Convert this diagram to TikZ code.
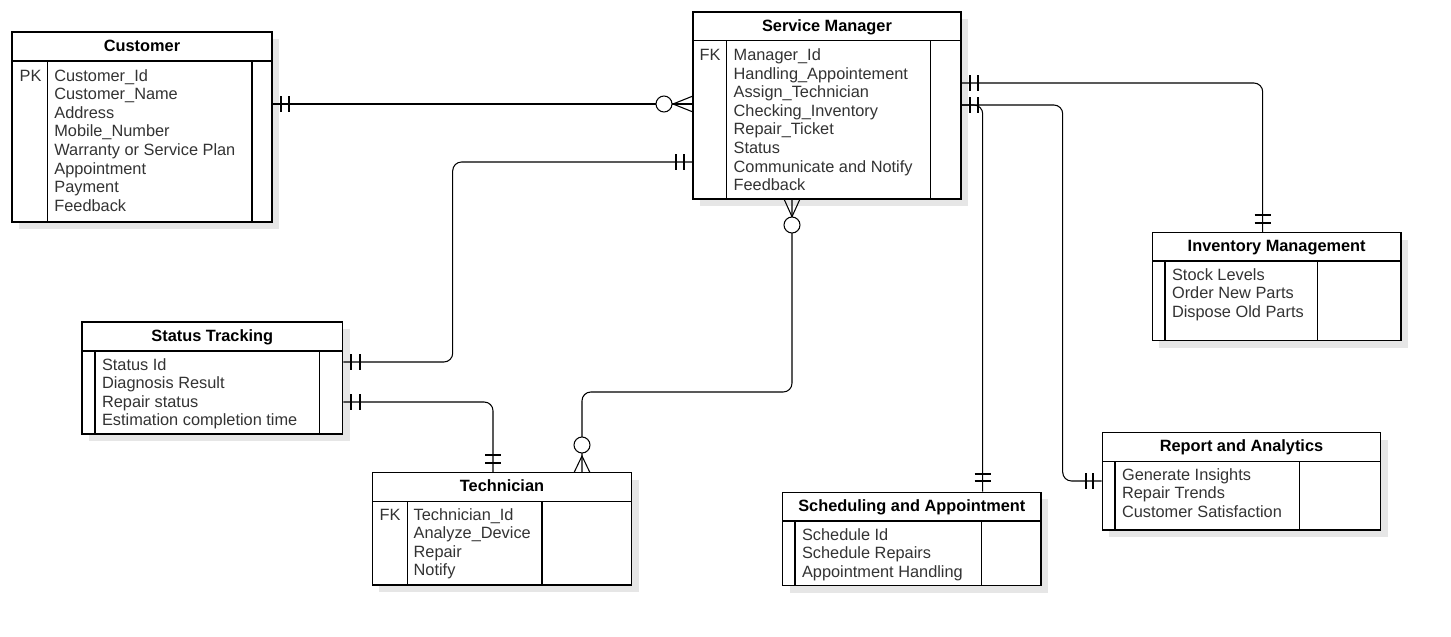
\documentclass[tikz,border=0pt]{standalone}
\usepackage{fontspec}
\setmainfont{Liberation Sans}
\usetikzlibrary{calc,fit}
\definecolor{shadowGray}{HTML}{E6E6E6}
\definecolor{textGray}{HTML}{333333}
\tikzset{
  erBox/.style={draw=black,line width=0.8pt,fill=white,inner sep=0pt},
  erLine/.style={draw=black,line width=0.8pt},
  relLine/.style={draw=black,line width=0.6pt,rounded corners=5pt},
  erMark/.style={draw=black,line width=0.6pt},
  erTitle/.style={font=\bfseries\fontsize{9.3}{10.6}\selectfont,anchor=base,inner sep=0pt},
  erText/.style={font=\fontsize{9.3}{10.6}\selectfont,text=textGray,anchor=base west,inner sep=0pt}
}
% frame of one entity: name, left, top, right, bottom, header line, key column, attribute column
\newcommand{\erEntity}[8]{%
  \fill[shadowGray] (#2+7,#3+7) rectangle (#4+7,#5+7);
  \node[erBox,fit={(#2,#3) (#4,#5)}] (#1) {};
  \draw[erLine] (#2,#6) -- (#4,#6) (#7,#6) -- (#7,#5) (#8,#6) -- (#8,#5);
}

\begin{document}
\begin{tikzpicture}[x=0.02cm,y=-0.02cm]
\useasboundingbox (0,0) rectangle (1451,636);

% entities
\erEntity{cust}{12}{32}{272}{222}{61}{47.7}{252}
\node[erTitle] (cust-title) at (142,51) {Customer};
\node[erText] (cust-key) at (19.3,81) {PK};
\node[erText] (cust-attr) at (54,81) {\begin{tabular}[t]{@{}l@{}}Customer\_Id\\Customer\_Name\\Address\\Mobile\_Number\\Warranty or Service Plan\\Appointment\\Payment\\Feedback\end{tabular}};

\erEntity{sm}{693}{12}{961}{199}{40.7}{726.7}{930.7}
\node[erTitle] (sm-title) at (827,31.5) {Service Manager};
\node[erText] (sm-key) at (699.3,60.5) {FK};
\node[erText] (sm-attr) at (733.3,60.5) {\begin{tabular}[t]{@{}l@{}}Manager\_Id\\Handling\_Appointement\\Assign\_Technician\\Checking\_Inventory\\Repair\_Ticket\\Status\\Communicate and Notify\\Feedback\end{tabular}};

\erEntity{st}{82}{322}{342.7}{434}{351}{95}{319.3}
\node[erTitle] (st-title) at (212.3,341) {Status Tracking};
\node[erText] (st-attr) at (101.7,370) {\begin{tabular}[t]{@{}l@{}}Status Id\\Diagnosis Result\\Repair status\\Estimation completion time\end{tabular}};

\erEntity{tech}{372.3}{472.7}{631.7}{585}{501.7}{407.3}{542}
\node[erTitle] (tech-title) at (502,491) {Technician};
\node[erText] (tech-key) at (379.3,520) {FK};
\node[erText] (tech-attr) at (413.3,520) {\begin{tabular}[t]{@{}l@{}}Technician\_Id\\Analyze\_Device\\Repair\\Notify\end{tabular}};

\erEntity{sched}{782.7}{492.3}{1041}{585.7}{521}{795}{981.7}
\node[erTitle] (sched-title) at (911.8,511) {Scheduling and Appointment};
\node[erText] (sched-attr) at (801.7,540) {\begin{tabular}[t]{@{}l@{}}Schedule Id\\Schedule Repairs\\Appointment Handling\end{tabular}};

\erEntity{report}{1102.3}{432.7}{1380.7}{530}{461.3}{1115}{1299.3}
\node[erTitle] (report-title) at (1241.5,451.5) {Report and Analytics};
\node[erText] (report-attr) at (1121.7,480) {\begin{tabular}[t]{@{}l@{}}Generate Insights\\Repair Trends\\Customer Satisfaction\end{tabular}};

\erEntity{inv}{1152.3}{232.7}{1401}{340.7}{261}{1165}{1317.3}
\node[erTitle] (inv-title) at (1276.7,251.7) {Inventory Management};
\node[erText] (inv-attr) at (1171.7,280) {\begin{tabular}[t]{@{}l@{}}Stock Levels\\Order New Parts\\Dispose Old Parts\end{tabular}};

% customer -- service manager
\draw[relLine] (cust.east |- 0,104) -- (sm.west |- 0,104);
\draw[erMark] (281,96) -- (281,112) (289,96) -- (289,112);
\draw[erMark] (693,96) -- (673,104) -- (693,112);
\draw[erMark,fill=white] (664,104) circle (8);

% status tracking -- service manager
\draw[relLine] (st.east |- 0,362) -- (452.7,362) -- (452.7,162) -- (sm.west |- 0,162);
\draw[erMark] (351,354) -- (351,370) (360,354) -- (360,370);
\draw[erMark] (676,154) -- (676,170) (684,154) -- (684,170);

% status tracking -- technician
\draw[relLine] (st.east |- 0,402) -- (493,402) -- (493,0 |- tech.north);
\draw[erMark] (351,394) -- (351,410) (360,394) -- (360,410);
\draw[erMark] (485,455) -- (501,455) (485,463) -- (501,463);

% technician -- service manager
\draw[relLine] (582,0 |- tech.north) -- (582,392) -- (792,392) -- (792,0 |- sm.south);
\draw[erMark] (574,472.7) -- (582,456) -- (590,472.7);
\draw[erMark,fill=white] (582,445) circle (8);
\draw[erMark] (784,199) -- (792,216.7) -- (800,199);
\draw[erMark,fill=white] (792,225) circle (8);

% service manager -- inventory
\draw[relLine] (sm.east |- 0,83) -- (1262.7,83) -- (1262.7,0 |- inv.north);
\draw[erMark] (970,75) -- (970,91) (978,75) -- (978,91);
\draw[erMark] (1254.7,215) -- (1270.7,215) (1254.7,223) -- (1270.7,223);

% service manager -- report, scheduling
\draw[relLine] (sm.east |- 0,105) -- (1062.7,105) -- (1062.7,481) -- (report.west |- 0,481);
\draw[relLine] (sm.east |- 0,105) -- (982.7,105) -- (982.7,0 |- sched.north);
\draw[erMark] (970,97) -- (970,113) (978,97) -- (978,113);
\draw[erMark] (1086,473) -- (1086,489) (1093,473) -- (1093,489);
\draw[erMark] (974.7,474) -- (990.7,474) (974.7,481) -- (990.7,481);
\end{tikzpicture}
\end{document}
